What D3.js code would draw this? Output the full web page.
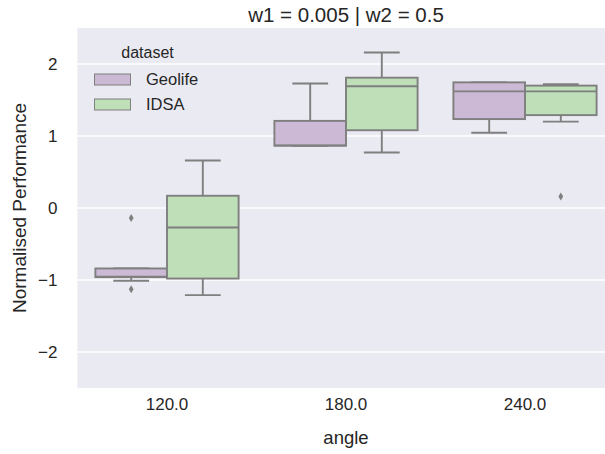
<!DOCTYPE html>
<html>
<head>
<meta charset="utf-8">
<script src="https://cdn.jsdelivr.net/npm/d3@7"></script>
<style>
  body { margin: 0; background: #fff; }
  text { font-family: "Liberation Sans", Arial, sans-serif; fill: #262626; }
</style>
</head>
<body>
<svg id="chart" width="605" height="454"></svg>
<script>
// categories and series
const angles = ["120.0", "180.0", "240.0"];
const datasets = ["Geolife", "IDSA"];
const colors = ["#cbb9d5", "#bedfb8"];

// box stats per dataset, one value per angle
const geolifeLow    = [-1.01, 0.865, 1.045];
const geolifeQ1     = [-0.96, 0.865, 1.235];
const geolifeMedian = [-0.955, 0.87, 1.62];
const geolifeQ3     = [-0.84, 1.21, 1.745];
const geolifeHigh   = [-0.84, 1.73, 1.745];
const geolifeOut    = [[-0.14, -1.13], [], []];

const idsaLow    = [-1.21, 0.77, 1.2];
const idsaQ1     = [-0.98, 1.08, 1.29];
const idsaMedian = [-0.27, 1.69, 1.62];
const idsaQ3     = [0.17, 1.81, 1.70];
const idsaHigh   = [0.66, 2.16, 1.72];
const idsaOut    = [[], [], [0.16]];

const yTicks = [-2, -1, 0, 1, 2];

const svg = d3.select("#chart");
const margin = { top: 28, left: 77.5 };
const plotBottom = 388;
const plotRight = 614.5;

const x0 = d3.scaleBand()
  .domain(angles)
  .range([margin.left, plotRight])
  .paddingInner(0.2)
  .paddingOuter(0.1);

const x1 = d3.scaleBand()
  .domain(datasets)
  .range([0, x0.bandwidth()]);

const y = d3.scaleLinear()
  .domain([-2.5, 2.5])
  .range([plotBottom, margin.top]);

// background
svg.append("rect")
  .attr("x", margin.left).attr("y", margin.top)
  .attr("width", plotRight - margin.left)
  .attr("height", plotBottom - margin.top)
  .attr("fill", "#eaeaf2");

// horizontal grid
svg.append("g")
  .selectAll("line")
  .data(yTicks)
  .enter().append("line")
    .attr("x1", margin.left).attr("x2", plotRight)
    .attr("y1", d => y(d)).attr("y2", d => y(d))
    .attr("stroke", "#fff")
    .attr("stroke-width", 1.3);

// build box table
const boxes = [];
angles.forEach((a, i) => {
  boxes.push({ angle: a, set: "Geolife", color: colors[0],
    lo: geolifeLow[i], q1: geolifeQ1[i], med: geolifeMedian[i], q3: geolifeQ3[i], hi: geolifeHigh[i], out: geolifeOut[i] });
  boxes.push({ angle: a, set: "IDSA", color: colors[1],
    lo: idsaLow[i], q1: idsaQ1[i], med: idsaMedian[i], q3: idsaQ3[i], hi: idsaHigh[i], out: idsaOut[i] });
});

const line = "#7f7f7f";
const lw = 1.9;

const bg = svg.append("g")
  .selectAll("g.box")
  .data(boxes)
  .enter().append("g")
    .attr("class", "box")
    .attr("transform", d => `translate(${x0(d.angle) + x1(d.set)},0)`);

const bw = x1.bandwidth();

// whiskers
bg.append("line")
  .attr("x1", bw / 2).attr("x2", bw / 2)
  .attr("y1", d => y(d.q3)).attr("y2", d => y(d.hi))
  .attr("stroke", line).attr("stroke-width", lw);
bg.append("line")
  .attr("x1", bw / 2).attr("x2", bw / 2)
  .attr("y1", d => y(d.q1)).attr("y2", d => y(d.lo))
  .attr("stroke", line).attr("stroke-width", lw);
// caps
bg.append("line")
  .attr("x1", bw / 4).attr("x2", bw * 3 / 4)
  .attr("y1", d => y(d.hi)).attr("y2", d => y(d.hi))
  .attr("stroke", line).attr("stroke-width", lw);
bg.append("line")
  .attr("x1", bw / 4).attr("x2", bw * 3 / 4)
  .attr("y1", d => y(d.lo)).attr("y2", d => y(d.lo))
  .attr("stroke", line).attr("stroke-width", lw);

// boxes
bg.append("rect")
  .attr("x", 0)
  .attr("y", d => y(d.q3))
  .attr("width", bw)
  .attr("height", d => y(d.q1) - y(d.q3))
  .attr("fill", d => d.color)
  .attr("stroke", line).attr("stroke-width", lw);

// medians
bg.append("line")
  .attr("x1", 0).attr("x2", bw)
  .attr("y1", d => y(d.med)).attr("y2", d => y(d.med))
  .attr("stroke", line).attr("stroke-width", lw);

// outliers (diamonds)
bg.selectAll("path.flier")
  .data(d => d.out)
  .enter().append("path")
    .attr("class", "flier")
    .attr("d", v => `M${bw / 2},${y(v) - 4}L${bw / 2 + 2.4},${y(v)}L${bw / 2},${y(v) + 4}L${bw / 2 - 2.4},${y(v)}Z`)
    .attr("fill", line);

// x axis
const xAxis = svg.append("g")
  .attr("transform", `translate(0,${plotBottom})`)
  .call(d3.axisBottom(x0).tickSize(0).tickPadding(10));
xAxis.select(".domain").remove();
xAxis.selectAll("text")
  .attr("font-size", "17px")
  .attr("fill", "#262626")
  .style("font-family", "'Liberation Sans', Arial, sans-serif");

// y axis
const yAxis = svg.append("g")
  .attr("transform", `translate(${margin.left},0)`)
  .call(d3.axisLeft(y).tickValues(yTicks).tickFormat(d3.format("d")).tickSize(0).tickPadding(20));
yAxis.select(".domain").remove();
yAxis.selectAll("text")
  .attr("font-size", "17px")
  .attr("fill", "#262626")
  .style("font-family", "'Liberation Sans', Arial, sans-serif");

// axis labels
svg.append("text")
  .attr("x", x0("180.0") + x0.bandwidth() / 2)
  .attr("y", 444)
  .attr("text-anchor", "middle")
  .attr("font-size", "18.5px")
  .text("angle");

svg.append("text")
  .attr("transform", "rotate(-90)")
  .attr("x", -208)
  .attr("y", 26)
  .attr("text-anchor", "middle")
  .attr("font-size", "19px")
  .text("Normalised Performance");

// title
svg.append("text")
  .attr("x", x0("180.0") + x0.bandwidth() / 2)
  .attr("y", 22)
  .attr("text-anchor", "middle")
  .attr("font-size", "20.5px")
  .text("w1 = 0.005 | w2 = 0.5");

// legend
const legend = svg.append("g")
  .attr("transform", "translate(94.5,0)");

legend.append("text")
  .attr("x", 53).attr("y", 57.5)
  .attr("text-anchor", "middle")
  .attr("font-size", "16px")
  .text("dataset");

datasets.forEach((key, i) => {
  const yOff = 74 + i * 25;
  legend.append("rect")
    .attr("x", 0).attr("y", yOff)
    .attr("width", 36).attr("height", 11)
    .attr("fill", colors[i])
    .attr("stroke", line).attr("stroke-width", 1);
  legend.append("text")
    .attr("x", 51.5).attr("y", yOff + 11)
    .attr("font-size", "16.5px")
    .text(key);
});
</script>
</body>
</html>
